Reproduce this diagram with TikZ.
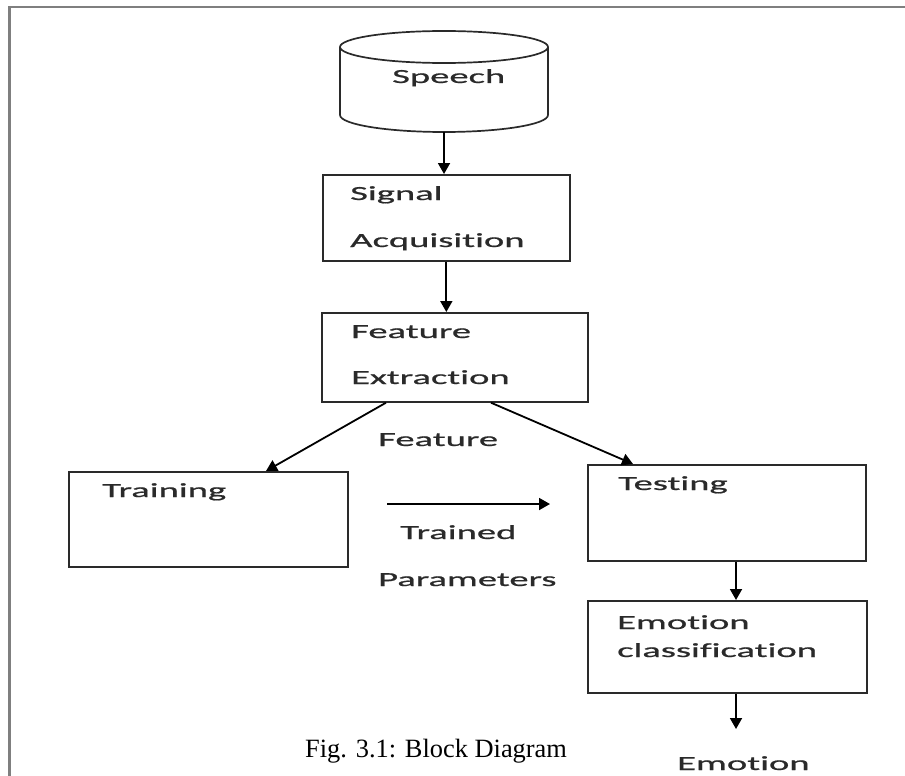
\documentclass[tikz,border=0pt]{standalone}
\usepackage{fontspec}
\setmainfont{Liberation Serif}
\newfontfamily\diagfont[FakeStretch=1.93, FakeBold=0.8, Ligatures=NoCommon]{Carlito}
\usetikzlibrary{arrows.meta}
\definecolor{framegray}{HTML}{7F7F7F}
\definecolor{inkgray}{HTML}{2A2A2A}
\begin{document}
\begin{tikzpicture}[x=1pt,y=1pt,
  box/.style={draw=inkgray, line width=1.7pt, inner sep=0pt, anchor=north west},
  lbl/.style={anchor=base west, inner sep=0pt, font=\diagfont\fontsize{20}{24}\selectfont, text=inkgray},
  arr/.style={line width=1.8pt, draw=black, -{Triangle[width=12pt,length=11pt]}},
  ]
\useasboundingbox (0,0) rectangle (905,-776);
\clip (0,0) rectangle (905,-776);
\fill[white] (0,0) rectangle (905,-776);
% frame
\draw[framegray, line width=2.2pt] (9.5,-776) -- (9.5,-7) -- (905,-7);
% cylinder
\node (speech) at (444,-81.5) [minimum width=208pt, minimum height=101pt, inner sep=0pt] {};
\draw[draw=inkgray, line width=1.7pt] (444,-47) ellipse [x radius=104, y radius=16];
\draw[draw=inkgray, line width=1.7pt] (340,-47) -- (340,-115) arc [start angle=180, end angle=360, x radius=104, y radius=17] -- (548,-47);
\node[lbl] (speechtxt) at (392,-83) {Speech};
% boxes
\node[box, minimum width=247pt, minimum height=86pt] (sig) at (322,-174) {};
\node[box, minimum width=266pt, minimum height=89pt] (feat) at (321,-312) {};
\node[box, minimum width=279pt, minimum height=95pt] (train) at (68,-471) {};
\node[box, minimum width=278pt, minimum height=96pt] (test) at (587,-464) {};
\node[box, minimum width=279pt, minimum height=92pt] (emo) at (587,-600) {};
% texts
\node[lbl] (t1) at (350,-200) {Signal};
\node[lbl] (t2) at (350,-247) {Acquisition};
\node[lbl] (t3) at (351,-338) {Feature};
\node[lbl] (t4) at (351,-384) {Extraction};
\node[lbl] (t5) at (378,-446) {Feature};
\node[lbl] (t6) at (102,-497) {Training};
\node[lbl] (t7) at (618,-490) {Testing};
\node[lbl] (t8) at (400,-539) {Trained};
\node[lbl] (t9) at (378,-586) {Parameters};
\node[lbl] (t10) at (617,-629) {Emotion};
\node[lbl] (t11) at (617,-657) {classification};
\node[lbl] (out) at (677,-770) {Emotion};
\node[anchor=base west, inner sep=0pt, font=\fontsize{26.4}{30}\selectfont] (cap) at (305,-757) {Fig. 3.1: Block Diagram};
% connectors
\coordinate (tpa) at (387,-504);
\coordinate (tpb) at (550,-504);
\coordinate (emoout) at (736,-729);
\draw[arr] (speech.south) -- (speech.south |- sig.north);
\draw[arr] (sig.south) -- (sig.south |- feat.north);
\draw[arr] ([xshift=65pt]feat.south west) -- ([xshift=198pt]train.north west);
\draw[arr] ([xshift=170pt]feat.south west) -- ([xshift=46pt]test.north west);
\draw[arr] (tpa) -- (tpb);
\draw[arr] ([xshift=149pt]test.south west) -- ([xshift=149pt]emo.north west);
\draw[arr] ([xshift=149pt]emo.south west) -- (emoout);
\end{tikzpicture}
\end{document}
